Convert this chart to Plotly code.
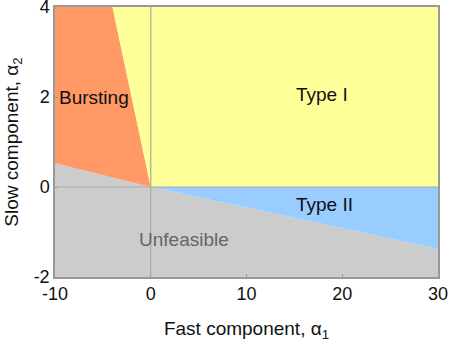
import plotly.graph_objects as go

# Boundary data (alpha1, alpha2)
unfeasible_x = [-10, 0, 30]
unfeasible_y = [0.53, 0, -1.37]
burst_x = [-4, 0]
burst_y = [4, 0]
x_range = [-10, 30]
y_range = [-2, 4]
x_ticks = [-10, 0, 10, 20, 30]
x_ticklabels = ["-10", "0", "10", "20", "30"]
y_ticks = [-2, 0, 2, 4]
y_ticklabels = ["-2", "0", "2", "4"]

region_names = ["Unfeasible", "Bursting", "Type I", "Type II"]
region_colors = ["#CCCCCC", "#FF9966", "#FFFF99", "#99CCFF"]

x0, x1 = x_range
y0, y1 = y_range

polys = {
    "Unfeasible": ([x0] + unfeasible_x + [x1],
                   [y0] + unfeasible_y + [y0]),
    "Bursting": ([x0, x0] + burst_x,
                 [unfeasible_y[0], y1] + burst_y),
    "Type I": ([burst_x[0], x1, x1, burst_x[1]],
               [y1, y1, 0, burst_y[1]]),
    "Type II": ([unfeasible_x[1], x1, x1],
                [unfeasible_y[1], 0, unfeasible_y[2]]),
}

fig = go.Figure()
for name, col in zip(region_names, region_colors):
    px, py = polys[name]
    fig.add_trace(go.Scatter(x=px, y=py, fill="toself", fillcolor=col,
                             mode="none", hoverinfo="skip", showlegend=False))

fig.add_shape(type="line", xref="x", yref="y", x0=0, x1=0, y0=y0, y1=y1,
              line=dict(color="#AAAAAA", width=1.2), layer="above")
fig.add_shape(type="line", xref="x", yref="y", x0=x0, x1=x1, y0=0, y1=0,
              line=dict(color="#AAAAAA", width=1.2), layer="above")

font = "Arial, Liberation Sans, sans-serif"
labels = [
    ("Bursting", -9.8, 2.0, "left", "#111111"),
    ("Type I", 17.9, 2.05, "center", "#111111"),
    ("Type II", 18.1, -0.39, "center", "#111111"),
    ("Unfeasible", 3.5, -1.17, "center", "#666666"),
]
for t, ax, ay, anc, c in labels:
    fig.add_annotation(x=ax, y=ay, text=t, showarrow=False, xanchor=anc,
                       font=dict(family=font, size=19, color=c))

eps = 1e-6
axis_common = dict(showgrid=False, zeroline=False, showline=True, mirror=True,
                   linecolor="#999999", linewidth=1.5, ticks="inside",
                   ticklen=3, tickcolor="#999999", ticklabeloverflow="allow",
                   automargin=False,
                   tickfont=dict(family=font, size=18, color="#111111"))

fig.update_xaxes(range=[x0 - eps, x1 + eps], tickvals=x_ticks,
                 ticktext=x_ticklabels, **axis_common,
                 title=dict(text="Fast component, α<sub>1</sub>",
                            font=dict(family=font, size=19, color="#111111"),
                            standoff=18))
fig.update_yaxes(range=[y0 - eps, y1 + eps], tickvals=y_ticks,
                 ticktext=y_ticklabels, **axis_common,
                 title=dict(text="Slow component, α<sub>2</sub>",
                            font=dict(family=font, size=19, color="#111111"),
                            standoff=10))

fig.update_layout(width=449, height=342, margin=dict(l=55, r=11, t=7, b=65),
                  plot_bgcolor="white", paper_bgcolor="white")

fig.write_html("out.html", config={"displayModeBar": False},
               post_script="document.body.style.margin='0';document.body.style.overflow='hidden';")
